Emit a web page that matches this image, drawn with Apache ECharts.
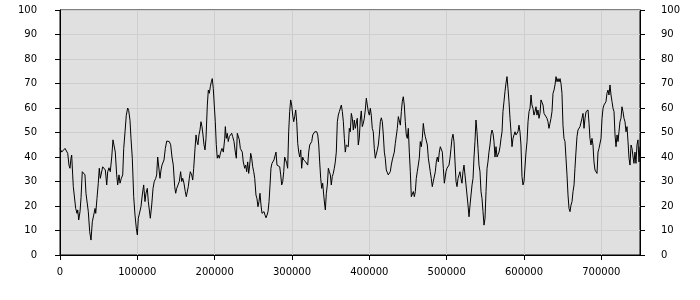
<!DOCTYPE html>
<html>
<head>
<meta charset="utf-8">
<script src="https://cdn.jsdelivr.net/npm/echarts@6/dist/echarts.min.js"></script>
<style>
html,body{margin:0;padding:0;background:#fff;}
#chart{width:700px;height:300px;}
</style>
</head>
<body>
<div id="chart"></div>
<script>
// x range and tick settings
const xMin = 0, xMax = 750000, xInterval = 100000;
const yMin = 0, yMax = 100, yInterval = 10;

// series points [x, value]
const lineData = [
[0,43.5],[2200,42],[4300,42.6],[6500,43.5],[8700,44],[10000,41.5],[11600,36.7],[12900,35.4],[14200,39.5],[15100,40.8],
[16400,32.7],[17200,27.9],[19400,27.9],[20300,19],[22000,17],[22900,18.4],[24200,14.3],[25900,17.7],[27200,23.4],[28800,34],
[30600,34.3],[32300,32.7],[33600,25.2],[35300,24.5],[36600,17.7],[38400,9.5],[40100,6.1],[41800,13.6],[43600,16.3],[45300,19],
[46200,17],[47800,23],[49500,29.3],[50800,35.4],[52100,31.3],[53900,32],[55200,36],[56900,35.4],[58600,34.7],[60400,28.6],
[61700,34],[63400,35.6],[65000,34],[66900,40],[68500,47],[70200,47],[71500,42],[73300,32.7],[74600,28.6],[76300,32.7],
[77600,29.3],[79300,31.3],[81100,32.7],[82400,43.5],[84100,50.3],[85700,57],[87500,60],[88800,59],[90500,55],[91800,47.6],
[93500,39.5],[95300,23.8],[97000,16.3],[98700,10.9],[100000,8.2],[101300,15],[103400,14.3],[104700,19.7],[106400,24.5],[108200,28.6],
[109900,21.8],[111200,25.2],[112900,27.2],[114200,21.8],[116800,15],[118600,20.4],[120300,27.2],[121900,30],[123800,31.3],[125000,32.7],
[126300,40],[128000,39.5],
[129300,31.3],[130600,34.7],[131900,36.7],[133200,37.4],[134500,38.8],[136200,43.5],[138000,46.5],[139700,47],[141300,46.3],[143100,45],
[144800,40],[146500,36.7],[148300,27.9],[149600,25.2],[150900,27.2],[152600,28.6],[154300,30],[156000,34],[157400,30],[158700,31.3],
[160300,29.3],[162000,25.9],[163300,23.8],[164600,24.5],[165900,27.9],[167200,31.3],[168500,34],[170300,32.7],[171600,30.6],[172900,35.4],
[174600,43.5],[175900,49],[177200,46.3],[178400,45],[179700,49],[181000,51],[182300,54.4],[183600,52.4],[184900,49],[186200,45],
[187500,42.9],[188800,47.6],[190500,61.2],[191800,67.3],[193100,66],[194400,68.7],[195700,70.7],[196900,72],[198200,68],[199500,61.2],
[200800,54.4],[202100,45],[203400,39.5],[204700,40.8],[206000,39.5],[207800,42],[209500,43.5],[211200,42],[213000,47.6],[213800,52.4],
[215000,47.6],[216300,49.7],[217600,46.3],[218900,48.3],[220700,47.6],[222000,49.7],[223300,48.3],[225000,46.3],[226700,42],[228000,39.5],
[229300,49.7],[230600,50.3],[231900,47],[233200,43.5],[234400,43.5],[235700,42],[237000,38],[238800,35.4],[240100,36.7],[241400,34],
[242700,38],[244000,33.3],[245300,36.7],[246600,41.5],[247900,39.5],[249200,36],[250500,34],[251800,31.3],
[253400,24.5],[254700,23],[256000,19.7],[257300,21.8],[258600,25.2],[259900,20.4],[261200,17],[262500,16.3],[263800,17.7],[265100,16.3],
[266400,15.2],[267700,16.3],[269000,17.7],[270300,21.8],[271600,28.6],[272800,35.4],[274100,37.4],[275400,36.7],[276700,38.8],[278000,38],
[279300,42],[280600,36.7],[282300,36],[284100,36],[285400,32.7],[286700,28.6],[288000,30],[289300,34],[290500,40],[291800,38.8],
[293100,37.4],[294400,35.4],[295700,50.3],[297000,58.5],[298300,63.3],[299600,61.2],[300900,57.1],[302200,54.4],[303500,56.5],[304800,59.2],
[306100,54.4],[307400,45.6],[308700,42],[310000,40],[311300,42.9],[312500,35.4],[313800,40],[315100,38.8],[316400,39.5],[317700,38],
[319000,38.8],[320300,36.7],[321600,42],[322900,44.9],[324200,44.2],[325500,46.3],[326800,49],[328100,49.7],[329400,50.3],[330700,49.7],
[332000,50.3],[333300,49],[334600,44.9],[335800,38],[337100,31.3],[338400,27.2],[339700,29.3],[341000,24.5],[342300,20.4],[343100,18.4],
[344400,25.2],[345700,28.6],[347000,35.4],[348300,34],[349600,32.7],[350800,28.6],[352100,32],[353400,33.3],[354700,35.4],[356000,38],
[357300,42],[358600,54.4],[359900,57.1],[361200,58.5],[362500,59.2],[363800,61.2],[365100,58.5],[366400,54.4],[367700,47.6],[368900,42],
[370200,44.9],[371500,44.2],[372800,44.2],[374100,51.7],
[375400,50.3],[376700,57.8],[378000,55.8],[379300,51],[380600,55.1],[381900,51.7],[383100,53.7],[384400,55.8],[385700,44.9],[387000,47.6],
[388300,55.1],[389600,58.8],[390900,52.4],[392200,53.7],[393500,55.8],[394800,59.2],[396100,64],[397400,61.2],[398700,58.5],[400000,57.1],
[401300,59.9],[402500,57.1],[403800,51.7],[405100,50.3],[406400,43.5],[407700,39.5],[409000,38.8],[410300,42.9],[411600,44.9],[412900,49],
[414200,54.4],[415500,56],[416800,54.4],[418100,49],[419400,42],[420600,39.5],[421900,34.7],[423200,34],[424500,32.7],[425800,33.3],
[427100,34],[428400,36.7],[429700,38.8],[431000,39.5],[432300,42],[433600,45.6],[434900,46.3],[436200,51.7],[437500,56.5],[438800,55.8],
[440100,53],[441400,58.5],[442600,62.6],[443900,64.6],[445200,61.2],[446500,54.4],[447800,49],[449100,47.6],[450400,51.7],[451700,42],
[453000,34],[454300,23.8],[455600,24.5],[456900,25.9],[458200,23.8],[459500,25.9],[460700,31.3],[462000,34],[463300,36.7],[464600,39.5],
[465900,46.3],[467200,44.2],[468500,47.6],[469800,53.7],[471100,50.3],[472400,48.3],[473700,47.6],[475000,44.9],[476300,39.5],[477600,36.7],
[478800,34],[480100,31.3],[481400,27.9],[482700,30],[484000,29.3],[485300,34],[486600,38],[487900,40],[489200,38],[490500,42],
[491800,44.2],[493100,44.9],[494400,42],[495700,35.4],[497000,29.3],
[499100,34],[500400,35.4],[501700,34.7],[503000,36.7],[504300,39.5],[505600,43.5],[506900,47.6],[508200,49.3],[509500,46.3],[510800,38],
[512100,30],[513400,27.9],[514700,31.3],[516000,32.7],[517200,34],[518500,31.3],[519800,29.3],[521100,34],[522400,36.7],[523700,36],
[525000,28.6],[526300,24.5],[527600,20.4],[528900,15.6],[530200,20.4],[531500,24.5],[532800,28.6],[534100,31.3],[535300,39.5],[536600,46.3],
[537900,55.1],[539200,50.3],[540500,43.5],[541800,36.7],[543100,34],[544400,25.9],[545700,23],[547000,17.7],[548300,12.2],[549600,15],
[550900,25.9],[552200,35.4],[553400,38],[554700,42],[556000,44.9],[557300,49],[558600,51],[559900,49.7],[561200,46.3],[562500,40],
[563800,44.2],[565100,40],[566400,40],[567700,42],[569000,44.2],[570300,47.6],[571600,50.3],[572800,58.5],[574100,62.6],[575400,66.7],
[576700,70.1],[578000,72.8],[579300,68],[580600,62.6],[581900,55.8],[583200,50.3],[584500,44.2],[585800,47.6],[587100,49],[588400,50.3],
[589700,49],[591000,48.3],[592200,50.3],[593500,53],[594800,50.3],[596100,44.9],[597400,32],[598700,28.6],[600000,30],[601300,30.6],
[602600,42],[603900,46.3],[605200,54.4],[606500,58.5],[607800,59.9],[609100,65.3],[610300,61.2],[611600,59.9],[612900,57.1],[614200,58.5],
[615500,60.5],[616800,57.1],[618100,59.2],[619400,55.8],
[620700,57.8],[622000,63.3],[623300,62.6],[624600,61.2],[625900,57.8],[627200,58.5],[628400,57.1],[629700,55.8],[631000,54.4],[632300,51.7],
[633600,53.7],[634900,55.8],[636200,58.5],[637500,66],[638800,67.3],[640100,69.4],[641400,72.8],[642700,70.7],[644000,72],[645300,70.7],
[646600,72],[647800,70.1],[649100,66],[650400,53],[651700,47.6],[653000,46.3],[654300,39.5],[655600,32.7],[656900,24.5],[658200,19],
[659500,17.7],[660800,20.4],[662100,21.8],[663400,25.9],[664700,28.6],[665900,35.4],[667200,42],[668500,48.3],[669800,51],[671100,51],
[672400,52.4],[673700,53],[675000,55.8],[676300,57.8],[677600,51.7],[678900,55.8],[680200,58.5],[681500,58.5],[682800,59.2],[684100,53.7],
[685300,47.6],[686600,44.9],[687900,47.6],[689200,44.9],[690500,38],[691800,34.7],[693100,34],[694400,33.3],[695700,42],[697000,43.5],
[698300,44.2],[699600,47.6],[700900,55.8],[702200,59.9],[703400,61.2],[704700,61.2],[706000,62.6],[707300,66],[708600,67.3],[709900,65.3],
[711200,69.4],[712500,65.3],[713800,62.6],[715100,59.9],[716400,58.5],[717700,49],[719000,44.2],[720300,49],[721600,46.3],[722800,50.3],
[724100,54.4],[725400,55.8],[726700,60.5],[728000,58.5],[729300,55.8],[730600,54.4],[731900,50.3],[733200,52.4],[734500,46.3],[735800,39.5],
[737100,36.7],[738400,44.9],[739700,43.5],[741000,40],[742200,37.4],[743500,42],[744800,37.4],[746100,44.9],[747400,47],[748700,38],
[750000,44.2]
];

const labelStyle = {color:'#000', fontFamily:'DejaVu Sans', fontSize:10};

const chart = echarts.init(document.getElementById('chart'), null, {renderer:'canvas'});
chart.setOption({
  animation:false,
  backgroundColor:'#fff',
  grid:{left:60, right:60, top:10, bottom:45, show:true, backgroundColor:'#e0e0e0', borderColor:'#000', borderWidth:1},
  xAxis:{
    type:'value', min:xMin, max:xMax, interval:xInterval,
    axisLine:{show:true, lineStyle:{color:'#000', width:1}},
    axisTick:{show:true, length:5, lineStyle:{color:'#000'}},
    axisLabel:Object.assign({margin:12, formatter:v=>String(v), showMaxLabel:false}, labelStyle),
    splitLine:{show:true, lineStyle:{color:'#cecece', width:1}}
  },
  yAxis:[
    {type:'value', min:yMin, max:yMax, interval:yInterval, position:'left',
     axisLine:{show:true, lineStyle:{color:'#000'}},
     axisTick:{show:true, length:5, lineStyle:{color:'#000'}},
     axisLabel:Object.assign({margin:23}, labelStyle),
     splitLine:{show:true, lineStyle:{color:'#cecece', width:1}}},
    {type:'value', min:yMin, max:yMax, interval:yInterval, position:'right',
     axisLine:{show:true, lineStyle:{color:'#000'}},
     axisTick:{show:true, length:5, lineStyle:{color:'#000'}},
     axisLabel:Object.assign({margin:21}, labelStyle),
     splitLine:{show:false}}
  ],
  series:[{
    type:'line', data:lineData, showSymbol:false, symbol:'none',
    lineStyle:{color:'#000', width:1}, xAxisIndex:0, yAxisIndex:0
  }]
});
</script>
</body>
</html>
